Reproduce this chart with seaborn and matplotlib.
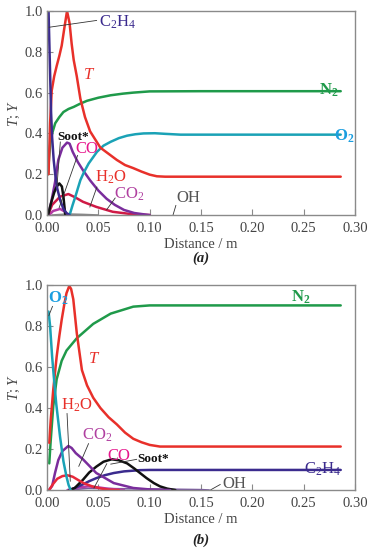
import matplotlib
matplotlib.use("Agg")
import matplotlib.pyplot as plt
import seaborn as sns

# ---------------- panel (a) data ----------------
a_T_x = [0.0015, 0.003, 0.0046, 0.007, 0.0094, 0.012, 0.0143, 0.017, 0.0195, 0.022, 0.024, 0.026, 0.029,
         0.0325, 0.037, 0.042, 0.047, 0.052, 0.060, 0.068, 0.076, 0.084, 0.092, 0.100, 0.107, 0.115,
         0.15, 0.20, 0.25, 0.286]
a_T_y = [0.20, 0.45, 0.61, 0.68, 0.73, 0.78, 0.83, 0.92, 1.0, 0.94, 0.84, 0.76, 0.68,
         0.57, 0.48, 0.41, 0.37, 0.33, 0.30, 0.27, 0.245, 0.23, 0.213, 0.198, 0.19, 0.188,
         0.188, 0.188, 0.188, 0.188]
a_N2_x = [0.001, 0.002, 0.0032, 0.005, 0.008, 0.012, 0.016, 0.021, 0.026, 0.032, 0.039, 0.05, 0.062,
          0.074, 0.084, 0.1, 0.15, 0.2, 0.25, 0.286]
a_N2_y = [0.20, 0.28, 0.35, 0.40, 0.45, 0.48, 0.505, 0.52, 0.53, 0.545, 0.56, 0.575, 0.587,
          0.595, 0.60, 0.606, 0.607, 0.607, 0.607, 0.607]
a_O2_x = [0.022, 0.025, 0.0276, 0.030, 0.0325, 0.036, 0.0406, 0.0487, 0.055, 0.062, 0.07, 0.078,
          0.086, 0.094, 0.105, 0.115, 0.13, 0.2, 0.286]
a_O2_y = [0.0, 0.05, 0.09, 0.13, 0.171, 0.21, 0.253, 0.31, 0.34, 0.359, 0.377, 0.389,
          0.396, 0.40, 0.401, 0.398, 0.394, 0.394, 0.394]
a_C2H4_x = [0.0015, 0.003, 0.004, 0.005, 0.0065, 0.008, 0.010, 0.013, 0.016, 0.019, 0.022]
a_C2H4_y = [1.0, 0.7, 0.5, 0.38, 0.27, 0.2, 0.13, 0.07, 0.03, 0.01, 0.0]
a_CO2_x = [0.001, 0.004, 0.0078, 0.011, 0.015, 0.0195, 0.022, 0.025, 0.03, 0.035, 0.042, 0.05,
           0.058, 0.066, 0.075, 0.085, 0.095, 0.10]
a_CO2_y = [0.0, 0.06, 0.16, 0.27, 0.33, 0.355, 0.35, 0.31, 0.26, 0.22, 0.17, 0.12,
           0.08, 0.05, 0.025, 0.01, 0.003, 0.0]
a_Soot_x = [0.001, 0.004, 0.007, 0.0095, 0.012, 0.0145, 0.016, 0.017, 0.0178]
a_Soot_y = [0.0, 0.06, 0.11, 0.14, 0.155, 0.14, 0.09, 0.04, 0.0]
a_H2O_x = [0.001, 0.005, 0.0127, 0.0208, 0.027, 0.035, 0.048, 0.064, 0.083, 0.10]
a_H2O_y = [0.0, 0.05, 0.09, 0.103, 0.088, 0.065, 0.04, 0.016, 0.004, 0.0]
a_CO_x = [0.002, 0.006, 0.0127, 0.017, 0.020]
a_CO_y = [0.0, 0.02, 0.03, 0.018, 0.0]
a_OH_x = [0.005, 0.02, 0.035, 0.05]
a_OH_y = [0.0, 0.005, 0.003, 0.0]

# ---------------- panel (b) data ----------------
b_O2_x = [0.0015, 0.003, 0.005, 0.0065, 0.009, 0.0127, 0.016, 0.019, 0.021, 0.023]
b_O2_y = [0.87, 0.80, 0.65, 0.56, 0.42, 0.26, 0.14, 0.065, 0.025, 0.0]
b_T_x = [0.0022, 0.0036, 0.0061, 0.0094, 0.012, 0.0143, 0.017, 0.019, 0.0217, 0.0235, 0.0256, 0.029,
         0.034, 0.039, 0.045, 0.052, 0.06, 0.068, 0.076, 0.084, 0.092, 0.10, 0.11, 0.13, 0.2, 0.286]
b_T_y = [0.23, 0.34, 0.49, 0.65, 0.75, 0.83, 0.91, 0.96, 0.995, 0.98, 0.93, 0.765,
         0.585, 0.51, 0.45, 0.40, 0.355, 0.32, 0.28, 0.25, 0.233, 0.22, 0.212, 0.212, 0.212, 0.212]
b_N2_x = [0.0022, 0.0036, 0.0061, 0.0094, 0.0143, 0.019, 0.029, 0.045, 0.062, 0.084, 0.1, 0.15, 0.2, 0.286]
b_N2_y = [0.13, 0.24, 0.41, 0.54, 0.63, 0.68, 0.74, 0.81, 0.86, 0.894, 0.9, 0.9, 0.9, 0.9]
b_H2O_x = [0.002, 0.006, 0.01, 0.015, 0.02, 0.025, 0.03, 0.036, 0.044, 0.052, 0.06, 0.07]
b_H2O_y = [0.0, 0.03, 0.055, 0.068, 0.072, 0.065, 0.05, 0.033, 0.018, 0.008, 0.002, 0.0]
b_CO2_x = [0.002, 0.005, 0.0078, 0.011, 0.015, 0.0208, 0.024, 0.028, 0.035, 0.048, 0.065, 0.084, 0.1, 0.12]
b_CO2_y = [0.0, 0.02, 0.083, 0.146, 0.19, 0.215, 0.205, 0.18, 0.15, 0.083, 0.034, 0.01, 0.003, 0.0]
b_Soot_x = [0.022, 0.027, 0.031, 0.035, 0.041, 0.048, 0.055, 0.063, 0.07, 0.078, 0.085, 0.0906,
            0.097, 0.104, 0.11, 0.117, 0.125]
b_Soot_y = [0.0, 0.01, 0.03, 0.05, 0.085, 0.114, 0.138, 0.15, 0.145, 0.13, 0.105, 0.083,
            0.058, 0.034, 0.018, 0.007, 0.0]
b_C2H4_x = [0.022, 0.028, 0.035, 0.041, 0.048, 0.056, 0.065, 0.075, 0.0906, 0.1, 0.15, 0.2, 0.286]
b_C2H4_y = [0.0, 0.012, 0.028, 0.043, 0.058, 0.072, 0.083, 0.091, 0.097, 0.098, 0.098, 0.098, 0.098]
b_CO_x = [0.02, 0.03, 0.04, 0.05, 0.06, 0.075]
b_CO_y = [0.0, 0.012, 0.018, 0.013, 0.006, 0.0]
b_OH_x = [0.02, 0.04, 0.08, 0.12, 0.15, 0.158]
b_OH_y = [0.0, 0.008, 0.006, 0.004, 0.002, 0.0]

xticks = [0.00, 0.05, 0.10, 0.15, 0.20, 0.25, 0.30]
yticks = [0.0, 0.2, 0.4, 0.6, 0.8, 1.0]

# colours
c_T = '#e8302a'
c_N2 = '#1f9a4a'
c_O2 = '#1aa2b6'
c_O2txt = '#1a9ee0'
c_C2H4 = '#3b2b8e'
c_CO2 = '#7a2d9c'
c_CO2txt = '#b040a0'
c_H2Oa = '#cf1a46'
c_CO = '#e6168c'
c_COline = '#b43aa6'
c_OH = '#555555'

sns.set_style('ticks')
plt.rcParams['font.family'] = ['Liberation Serif', 'DejaVu Serif']
plt.rcParams['mathtext.fontset'] = 'custom'
plt.rcParams['mathtext.rm'] = 'Liberation Serif'
plt.rcParams['mathtext.it'] = 'Liberation Serif:italic'
plt.rcParams['mathtext.bf'] = 'Liberation Serif:bold'

fig = plt.figure(figsize=(3.73, 5.50), dpi=100)
ax_a = fig.add_axes([0.126, 0.609, 0.826, 0.371])
ax_b = fig.add_axes([0.126, 0.109, 0.826, 0.373])


def curve(ax, x, y, color, lw=1.8):
    sns.lineplot(x=x, y=y, ax=ax, color=color, lw=lw, estimator=None, sort=False)


def leader(ax, x0, y0, x1, y1):
    ax.plot([x0, x1], [y0, y1], color='#333333', lw=0.6, solid_capstyle='butt')


def style_axes(ax, caption, cap_y):
    ax.set_xlim(0, 0.30)
    ax.set_ylim(0, 1.0)
    ax.set_xticks(xticks)
    ax.set_yticks(yticks)
    ax.set_xticklabels([f'{v:.2f}' for v in xticks])
    ax.set_yticklabels([f'{v:.1f}' for v in yticks])
    for s in ax.spines.values():
        s.set_visible(True)
        s.set_color('#8a8a8a')
        s.set_linewidth(1.0)
    ax.tick_params(direction='in', length=4, width=0.8, color='#8a8a8a',
                   labelsize=10.5, labelcolor='#444444')
    ax.tick_params(axis='x', pad=5)
    ax.tick_params(axis='y', pad=3)
    ax.set_xlabel('Distance / m', fontsize=10.5, color='#444444', labelpad=2)
    ax.set_ylabel('$\\it{T}$; $\\it{Y}$', fontsize=10.5, color='#444444', labelpad=2)
    ax.text(0.5, cap_y, caption, transform=ax.transAxes, ha='center', va='center',
            fontsize=10.5, fontweight='bold', fontstyle='italic', color='#222222')


# ---------------- panel (a) ----------------
ax = ax_a
curve(ax, a_OH_x, a_OH_y, '#888888', 1.2)
curve(ax, a_CO_x, a_CO_y, c_COline)
curve(ax, a_H2O_x, a_H2O_y, c_H2Oa)
curve(ax, a_CO2_x, a_CO2_y, c_CO2)
curve(ax, a_Soot_x, a_Soot_y, '#111111')
curve(ax, a_O2_x, a_O2_y, c_O2)
curve(ax, a_N2_x, a_N2_y, c_N2)
curve(ax, a_T_x, a_T_y, c_T)
curve(ax, a_C2H4_x, a_C2H4_y, c_C2H4)
style_axes(ax, '(a)', -0.21)

fs = 12
ax.text(0.051, 0.925, r'C$_2$H$_4$', color=c_C2H4, fontsize=fs, va='baseline')
ax.text(0.035, 0.666, r'$\mathbf{\it{T}}$', color=c_T, fontsize=fs, va='baseline')
ax.text(0.2646, 0.59, r'$\mathbf{N_2}$', color=c_N2, fontsize=fs, va='baseline')
ax.text(0.279, 0.367, r'$\mathbf{O_2}$', color=c_O2txt, fontsize=fs, va='baseline')
ax.text(0.0097, 0.367, 'Soot*', color='#111111', fontsize=9.5, fontweight='bold', va='baseline')
ax.text(0.0276, 0.302, 'CO', color=c_CO, fontsize=fs, va='baseline')
ax.text(0.0464, 0.163, r'H$_2$O', color=c_T, fontsize=fs, va='baseline')
ax.text(0.065, 0.082, r'CO$_2$', color=c_CO2txt, fontsize=fs, va='baseline')
ax.text(0.1256, 0.065, 'OH', color=c_OH, fontsize=fs, va='baseline')

leader(ax, 0.0016, 0.92, 0.0487, 0.954)
leader(ax, 0.013, 0.36, 0.0097, 0.139)
leader(ax, 0.0299, 0.294, 0.0117, 0.034)
leader(ax, 0.0487, 0.139, 0.0416, 0.0375)
leader(ax, 0.0666, 0.085, 0.0578, 0.024)
leader(ax, 0.1256, 0.049, 0.1227, 0.0)

# ---------------- panel (b) ----------------
ax = ax_b
curve(ax, b_OH_x, b_OH_y, '#7a5aa0', 1.2)
curve(ax, b_CO_x, b_CO_y, c_COline)
curve(ax, b_C2H4_x, b_C2H4_y, c_C2H4)
curve(ax, b_Soot_x, b_Soot_y, '#111111')
curve(ax, b_CO2_x, b_CO2_y, c_CO2)
curve(ax, b_H2O_x, b_H2O_y, '#e8283a')
curve(ax, b_N2_x, b_N2_y, c_N2)
curve(ax, b_T_x, b_T_y, c_T)
curve(ax, b_O2_x, b_O2_y, c_O2)
style_axes(ax, '(b)', -0.244)

ax.text(0.0005, 0.914, r'$\mathbf{O_2}$', color=c_O2txt, fontsize=fs, va='baseline')
ax.text(0.2377, 0.918, r'$\mathbf{N_2}$', color=c_N2, fontsize=fs, va='baseline')
ax.text(0.0396, 0.62, r'$\mathbf{\it{T}}$', color=c_T, fontsize=fs, va='baseline')
ax.text(0.0136, 0.39, r'H$_2$O', color=c_T, fontsize=fs, va='baseline')
ax.text(0.034, 0.245, r'CO$_2$', color=c_CO2txt, fontsize=fs, va='baseline')
ax.text(0.0584, 0.147, 'CO', color=c_CO, fontsize=fs, va='baseline')
ax.text(0.0877, 0.139, 'Soot*', color='#111111', fontsize=9.5, fontweight='bold', va='baseline')
ax.text(0.2506, 0.082, r'C$_2$H$_4$', color=c_C2H4, fontsize=fs, va='baseline')
ax.text(0.1705, 0.008, 'OH', color=c_OH, fontsize=fs, va='baseline')

leader(ax, 0.0055, 0.897, 0.0016, 0.848)
leader(ax, 0.0195, 0.375, 0.0227, 0.041)
leader(ax, 0.0406, 0.228, 0.0308, 0.114)
leader(ax, 0.0584, 0.13, 0.0455, 0.008)
leader(ax, 0.0877, 0.15, 0.0617, 0.126)
leader(ax, 0.169, 0.028, 0.159, 0.0)

fig.savefig('out.png', dpi=100)
